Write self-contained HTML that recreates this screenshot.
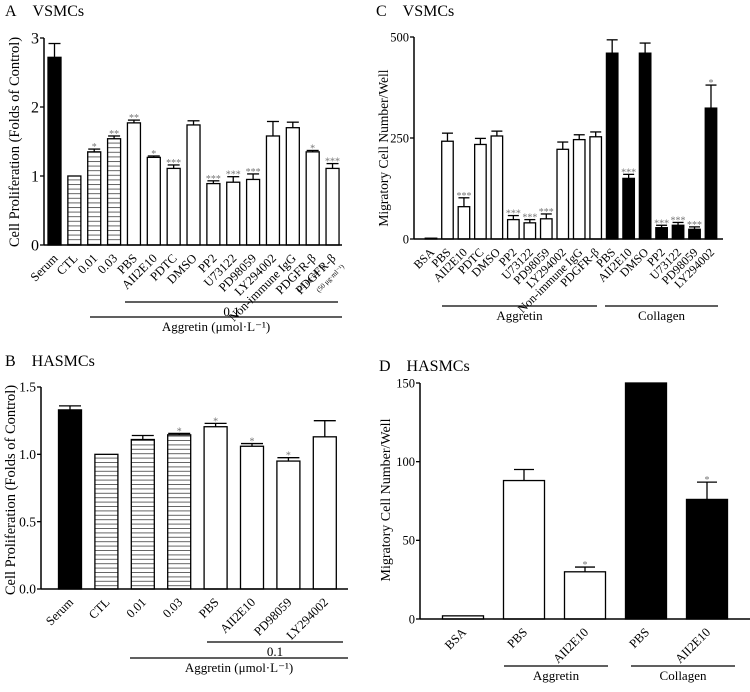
<!DOCTYPE html>
<html><head><meta charset="utf-8">
<style>
html,body{margin:0;padding:0;background:#fff;}
svg, svg text{font-family:"Liberation Serif","DejaVu Serif",serif;}
</style></head>
<body>
<svg id="fig" width="750" height="687" viewBox="0 0 750 687" xmlns="http://www.w3.org/2000/svg" font-family="Liberation Serif, serif">
<defs>
<pattern id="hatchA" width="6" height="4.6" patternUnits="userSpaceOnUse">
<rect width="6" height="4.6" fill="#fff"/><line x1="0" y1="0.5" x2="6" y2="0.5" stroke="#555" stroke-width="0.9"/>
</pattern>
<pattern id="hatchB" width="6" height="4.4" patternUnits="userSpaceOnUse">
<rect width="6" height="4.4" fill="#fff"/><line x1="0" y1="0.5" x2="6" y2="0.5" stroke="#555" stroke-width="0.9"/>
</pattern>
</defs>
</svg>
<script>
// ---------- Panel A data ----------
const aCategories = ["Serum","CTL","0.01","0.03","PBS","AII2E10","PDTC","DMSO","PP2","U73122","PD98059","LY294002","Non-immune IgG","PDGFR-β","PDGFR-β"];
const aValues = [2.72,1.0,1.35,1.54,1.77,1.27,1.11,1.74,0.89,0.91,0.95,1.58,1.70,1.35,1.11];
const aErrors = [0.2,0,0.04,0.04,0.04,0.02,0.05,0.06,0.04,0.08,0.08,0.21,0.08,0.02,0.07];
const aFills = ["k","h","h","h","w","w","w","w","w","w","w","w","w","w","w"];
const aStars = ["","","*","**","**","*","***","","***","***","***","","","*","***"];
const aTicks = [0,1,2,3];
// ---------- Panel B data ----------
const bCategories = ["Serum","CTL","0.01","0.03","PBS","AII2E10","PD98059","LY294002"];
const bValues = [1.33,1.0,1.11,1.145,1.205,1.06,0.95,1.13];
const bErrors = [0.03,0,0.03,0.01,0.025,0.02,0.025,0.12];
const bFills = ["k","h","h","h","w","w","w","w"];
const bStars = ["","","","*","*","*","*",""];
const bTicks = [0,0.5,1.0,1.5];
// ---------- Panel C data ----------
const cCategories = ["BSA","PBS","AII2E10","PDTC","DMSO","PP2","U73122","PD98059","LY294002","Non-immune IgG","PDGFR-β","PBS","AII2E10","DMSO","PP2","U73122","PD98059","LY294002"];
const cValues = [2,242,80,234,255,48,40,50,222,246,253,460,150,460,28,34,24,324];
const cErrors = [0,20,22,15,12,10,8,12,18,12,12,33,10,25,6,7,6,57];
const cFills = ["w","w","w","w","w","w","w","w","w","w","w","k","k","k","k","k","k","k"];
const cStars = ["","","***","","","***","***","***","","","","","***","","***","***","***","*"];
const cTicks = [0,250,500];
// ---------- Panel D data ----------
const dCategories = ["BSA","PBS","AII2E10","PBS","AII2E10"];
const dValues = [2,88,30,150,76];
const dErrors = [0,7,3,0,11];
const dFills = ["w","w","w","k","k"];
const dStars = ["","","*","","*"];
const dTicks = [0,50,100,150];

const NS="http://www.w3.org/2000/svg";
const svg=document.getElementById('fig');
const FONT='"Liberation Serif", "DejaVu Serif", serif';
function el(tag,attrs,parent,text){const e=document.createElementNS(NS,tag);for(const k in attrs)e.setAttribute(k,attrs[k]);if(tag==='text'){e.setAttribute('font-family',FONT);e.style.fontFamily=FONT;}if(text!==undefined)e.textContent=text;(parent||svg).appendChild(e);return e;}

function panel(cfg){
  const g=el('g',{});
  
  
  const yScale=v=>cfg.y0-(v-cfg.ymin)/(cfg.ymax-cfg.ymin)*(cfg.y0-cfg.y1);
  const xScale=i=>cfg.cx0+i*cfg.step;
  const t=el('text',{x:cfg.titleX,y:cfg.titleY,'font-size':16},g,cfg.letter+'\u2002\u2002'+cfg.title);
  
  
  cfg.values.forEach((v,i)=>{
    const cx=xScale(i), top=yScale(Math.min(v,cfg.ymax)), fill=cfg.fills[i];
    const err=cfg.errors[i];
    if(err>0){
      const ey=yScale(v+err);
      const l=el('line',{x1:cx,y1:top,x2:cx,y2:ey,stroke:'#000','stroke-width':1.3},g);
      
      
      el('line',{x1:cx-cfg.capW,y1:ey,x2:cx+cfg.capW,y2:ey,stroke:'#000','stroke-width':1.3},g);
    }
    const r=el('rect',{x:cx-cfg.bw/2,y:top,width:cfg.bw,height:cfg.y0-top,
      fill:fill==='k'?'#000':fill==='h'?cfg.hatch:'#fff',stroke:'#000','stroke-width':1.3},g);
    
    
    if(cfg.stars[i]){
      const sy=yScale(v+err)-3;
      const s=el('text',{x:cx,y:sy+4,'text-anchor':'middle','font-size':10,fill:'#777'},g,cfg.stars[i]);
      
      
    }
    const lx=cx+4, ly=cfg.y0+14;
    const lab=el('text',{x:lx,y:ly,'text-anchor':'end','font-size':cfg.labelSize,transform:`rotate(-45 ${lx} ${ly})`},g,cfg.categories[i]);
    
    
    if(cfg.subLabels&&cfg.subLabels[i]){
      const lx2=lx+8, ly2=ly+8;
      el('text',{x:lx2,y:ly2,'text-anchor':'end','font-size':7,transform:`rotate(-45 ${lx2} ${ly2})`},g,cfg.subLabels[i]);
    }
  });
  const ya=el('line',{x1:cfg.ax,y1:cfg.y0,x2:cfg.ax,y2:cfg.y1,stroke:'#000','stroke-width':1.5},g);
  
  
  const xa=el('line',{x1:cfg.ax,y1:cfg.y0,x2:cfg.axEnd,y2:cfg.y0,stroke:'#000','stroke-width':1.5},g);
  
  
  cfg.ticks.forEach(tv=>{
    const ty=yScale(tv);
    el('line',{x1:cfg.ax-4,y1:ty,x2:cfg.ax,y2:ty,stroke:'#000','stroke-width':1.3},g);
    const tl=el('text',{x:cfg.ax-5,y:ty+cfg.tickSize*0.35,'text-anchor':'end','font-size':cfg.tickSize},g,cfg.tickFmt(tv));
    
    
  });
  const yt=el('text',{x:cfg.ytX,y:cfg.ytY,'text-anchor':'middle','font-size':cfg.ytSize,transform:`rotate(-90 ${cfg.ytX} ${cfg.ytY})`},g,cfg.yTitle);
  
  
  cfg.brackets.forEach(b=>{
    const bl=el('line',{x1:b.x1,y1:b.y,x2:b.x2,y2:b.y,stroke:'#000','stroke-width':1.3},g);
    
    
    const bt=el('text',{x:(b.x1+b.x2)/2,y:b.y+14,'text-anchor':'middle','font-size':13},g,b.text);
    
    
  });
}

panel({name:'panel-a',letter:'A',title:'VSMCs',titleX:5,titleY:16,categories:aCategories,values:aValues,errors:aErrors,fills:aFills,stars:aStars,ticks:aTicks,
  ymin:0,ymax:3,y0:245,y1:38,ax:44,axEnd:342,cx0:54.5,step:19.86,bw:13,capW:6,hatch:'url(#hatchA)',labelSize:12.5,tickSize:16,tickFmt:v=>String(v),
  ytX:19,ytY:142,ytSize:14.5,yTitle:'Cell Proliferation (Folds of Control)',
  subLabels:["","","","","","","","","","","","","","(25 μg·ml⁻¹)","(50 μg·ml⁻¹)"],
  brackets:[{x1:125,x2:338,y:302,text:'0.1'},{x1:90,x2:342,y:317,text:'Aggretin (μmol·L⁻¹)'}]});

panel({name:'panel-b',letter:'B',title:'HASMCs',titleX:5,titleY:366,categories:bCategories,values:bValues,errors:bErrors,fills:bFills,stars:bStars,ticks:bTicks,
  ymin:0,ymax:1.5,y0:589,y1:387,ax:41,axEnd:348,cx0:70,step:36.4,bw:23,capW:11,hatch:'url(#hatchB)',labelSize:12.5,tickSize:13.5,tickFmt:v=>v.toFixed(1),
  ytX:15,ytY:490,ytSize:14.5,yTitle:'Cell Proliferation (Folds of Control)',
  brackets:[{x1:207,x2:343,y:642,text:'0.1'},{x1:130,x2:348,y:658,text:'Aggretin (μmol·L⁻¹)'}]});

panel({name:'panel-c',letter:'C',title:'VSMCs',titleX:376,titleY:16,categories:cCategories,values:cValues,errors:cErrors,fills:cFills,stars:cStars,ticks:cTicks,
  ymin:0,ymax:500,y0:239,y1:37,ax:414,axEnd:723,cx0:431,step:16.47,bw:11.5,capW:5.5,hatch:'#fff',labelSize:12,tickSize:12.5,tickFmt:v=>String(v),
  ytX:388,ytY:148,ytSize:13.5,yTitle:'Migratory Cell Number/Well',
  brackets:[{x1:442,x2:597,y:306,text:'Aggretin'},{x1:605,x2:718,y:306,text:'Collagen'}]});

panel({name:'panel-d',letter:'D',title:'HASMCs',titleX:379,titleY:371,categories:dCategories,values:dValues,errors:dErrors,fills:dFills,stars:dStars,ticks:dTicks,
  ymin:0,ymax:150,y0:619,y1:383,ax:420,axEnd:750,cx0:463,step:61,bw:41,capW:10,hatch:'#fff',labelSize:12.5,tickSize:12.5,tickFmt:v=>String(v),
  ytX:390,ytY:500,ytSize:14,yTitle:'Migratory Cell Number/Well',
  brackets:[{x1:504,x2:608,y:666,text:'Aggretin'},{x1:631,x2:735,y:666,text:'Collagen'}]});
</script>
</body></html>
